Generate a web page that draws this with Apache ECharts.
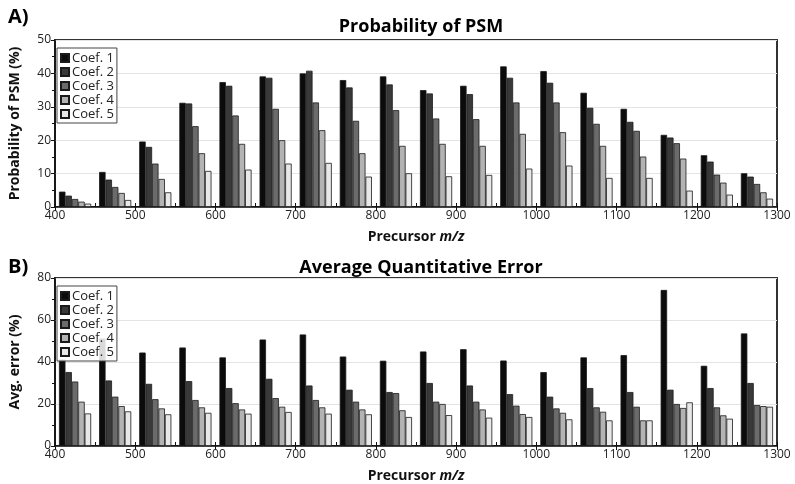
<!DOCTYPE html>
<html>
<head>
<meta charset="utf-8">
<script src="https://cdn.jsdelivr.net/npm/echarts@6/dist/echarts.min.js"></script>
<style>
  html, body { margin: 0; padding: 0; background: #fff; }
  #main { width: 795px; height: 484px; }
</style>
</head>
<body>
<div id="main"></div>
<script>
// m/z bins (start of each 50-wide bin)
var bins = [400, 450, 500, 550, 600, 650, 700, 750, 800, 850, 900, 950, 1000, 1050, 1100, 1150, 1200, 1250];
var coefNames = ['Coef. 1', 'Coef. 2', 'Coef. 3', 'Coef. 4', 'Coef. 5'];

// A) probability of PSM (%)
var psmCoef1 = [4.6, 10.5, 19.6, 31.2, 37.4, 39.1, 40.0, 38.0, 39.1, 35.0, 36.3, 42.1, 40.7, 34.2, 29.4, 21.6, 15.5, 10.1];
var psmCoef2 = [3.4, 8.2, 18.0, 31.0, 36.3, 38.7, 40.8, 35.8, 36.7, 34.0, 33.8, 38.7, 37.2, 29.7, 25.5, 20.8, 13.6, 9.1];
var psmCoef3 = [2.4, 6.0, 13.0, 24.2, 27.4, 29.4, 31.3, 25.8, 29.0, 26.5, 26.3, 31.3, 31.3, 24.9, 22.8, 19.1, 9.7, 6.9];
var psmCoef4 = [1.6, 4.2, 8.4, 16.1, 18.9, 20.0, 23.0, 16.1, 18.3, 18.9, 18.3, 21.9, 22.4, 18.3, 15.1, 14.5, 7.3, 4.4];
var psmCoef5 = [1.0, 2.1, 4.4, 10.8, 11.2, 13.0, 13.2, 9.1, 10.1, 9.2, 9.6, 11.5, 12.4, 8.7, 8.7, 4.9, 3.7, 2.5];

// B) average quantitative error (%)
var errCoef1 = [41.2, 51.2, 44.5, 46.9, 42.2, 50.7, 53.1, 42.6, 40.6, 45.0, 46.1, 40.7, 35.2, 42.2, 43.3, 74.3, 38.2, 53.6];
var errCoef2 = [35.2, 31.2, 29.6, 30.9, 27.6, 32.0, 28.8, 26.8, 25.7, 30.0, 28.8, 24.7, 23.5, 27.6, 25.7, 26.8, 27.6, 30.0];
var errCoef3 = [30.7, 23.5, 22.3, 21.9, 20.4, 22.8, 21.9, 21.1, 25.2, 21.1, 21.1, 19.2, 17.9, 18.4, 18.7, 20.0, 18.4, 19.5];
var errCoef4 = [21.1, 19.0, 17.9, 18.4, 17.4, 18.7, 18.4, 17.4, 17.0, 20.0, 17.4, 15.2, 15.8, 16.3, 12.2, 18.1, 14.6, 19.0];
var errCoef5 = [15.5, 16.5, 15.1, 15.8, 15.4, 16.2, 15.4, 15.1, 13.8, 14.7, 13.5, 13.8, 12.7, 12.2, 12.2, 20.8, 13.0, 18.7];

var psmData = [psmCoef1, psmCoef2, psmCoef3, psmCoef4, psmCoef5];
var errData = [errCoef1, errCoef2, errCoef3, errCoef4, errCoef5];
var colors = ['#0b0b0b', '#393939', '#6b6b6b', '#b3b3b3', '#e8e8e8'];

var FONT = '"Open Sans", "Noto Sans", sans-serif';
var plotW = 795 - 50 - 18;
var barPx = plotW / 900 * 8;   // each bar covers 8 m/z units

function toPoints(vals, j) {
    // bars of a bin sit side by side, starting 5 units into the bin
    return vals.map(function (v, i) {
        return [bins[i] + 9 + 8 * j, v];
    });
}

function makeSeries(dataSets, gi) {
    return dataSets.map(function (vals, j) {
        return {
            name: coefNames[j],
            type: 'bar',
            xAxisIndex: gi * 2,
            yAxisIndex: gi,
            barWidth: barPx,
            barGap: '-100%',
            data: toPoints(vals, j),
            itemStyle: { color: colors[j], borderColor: '#1a1a1a', borderWidth: 0.8 },
            emphasis: { disabled: true },
            silent: true,
            z: 3
        };
    });
}

function xAxes(gi) {
    return [{
        type: 'value', gridIndex: gi, position: 'bottom',
        min: 400, max: 1300, interval: 100,
        name: '{b|Precursor }{i|m/z}', nameLocation: 'middle', nameGap: 23,
        nameTextStyle: {
            rich: {
                b: { fontFamily: FONT, fontWeight: 'bold', fontSize: 14, color: '#111' },
                i: { fontFamily: FONT, fontWeight: 'bold', fontStyle: 'italic', fontSize: 14, color: '#111' }
            }
        },
        axisLine: { lineStyle: { color: '#111', width: 1.5 } },
        axisTick: { length: 4, lineStyle: { color: '#111' } },
        axisLabel: { fontFamily: FONT, fontSize: 12, color: '#222', margin: 3,
            formatter: function (v) { return String(v); } },
        splitLine: { show: false }
    }, {
        type: 'value', gridIndex: gi, position: 'bottom',
        min: 400, max: 1300, interval: 50,
        axisLine: { show: false },
        axisTick: { inside: true, length: 4, lineStyle: { color: '#111' } },
        axisLabel: { show: false },
        splitLine: { show: false }
    }];
}

function yAxis(gi, max, interval, name) {
    return {
        type: 'value', gridIndex: gi,
        min: 0, max: max, interval: interval,
        name: name, nameLocation: 'middle', nameGap: 33,
        nameTextStyle: { fontFamily: FONT, fontWeight: 'bold', fontSize: 14, color: '#111' },
        axisLine: { show: true, lineStyle: { color: '#111', width: 1.5 } },
        axisTick: { show: true, length: 4, lineStyle: { color: '#111' } },
        minorTick: { show: true, splitNumber: 2, length: 3, lineStyle: { color: '#111' } },
        axisLabel: { fontFamily: FONT, fontSize: 12, color: '#222', margin: 4 },
        splitLine: { lineStyle: { color: '#e4e4e4', width: 1 } }
    };
}

function legend(top) {
    return {
        data: coefNames,
        orient: 'vertical',
        left: 57, top: top,
        itemWidth: 8, itemHeight: 8, itemGap: 0,
        padding: [3, 3, 2, 3],
        backgroundColor: 'rgba(255,255,255,0.85)',
        borderColor: '#444', borderWidth: 1,
        icon: 'rect',
        textStyle: { fontFamily: FONT, fontSize: 13, color: '#222', padding: [0, 0, 0, -2], lineHeight: 14 },
        selectedMode: false,
        z: 10
    };
}

var chart = echarts.init(document.getElementById('main'), null, { renderer: 'canvas' });
chart.setOption({
    animation: false,
    backgroundColor: '#fff',
    title: [
        { text: 'A)', left: 3, top: 2, textStyle: { fontFamily: FONT, fontWeight: 'bold', fontSize: 20, color: '#000' } },
        { text: 'Probability of PSM', left: 416, top: 13, textAlign: 'center', textStyle: { fontFamily: FONT, fontWeight: 'bold', fontSize: 18, color: '#000' } },
        { text: 'B)', left: 3, top: 252, textStyle: { fontFamily: FONT, fontWeight: 'bold', fontSize: 20, color: '#000' } },
        { text: 'Average Quantitative Error', left: 416, top: 254, textAlign: 'center', textStyle: { fontFamily: FONT, fontWeight: 'bold', fontSize: 18, color: '#000' } }
    ],
    legend: [legend(48), legend(286)],
    grid: [
        { left: 50, right: 18, top: 40, height: 167, show: true, borderColor: '#333', borderWidth: 2, backgroundColor: 'transparent' },
        { left: 50, right: 18, top: 278, height: 168, show: true, borderColor: '#333', borderWidth: 2, backgroundColor: 'transparent' }
    ],
    xAxis: xAxes(0).concat(xAxes(1)),
    yAxis: [
        yAxis(0, 50, 10, 'Probability of PSM (%)'),
        yAxis(1, 80, 20, 'Avg. error (%)')
    ],
    series: makeSeries(psmData, 0).concat(makeSeries(errData, 1))
});
</script>
</body>
</html>
